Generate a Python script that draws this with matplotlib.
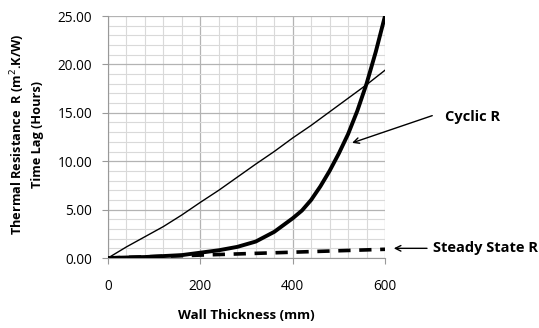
import matplotlib.pyplot as plt
from matplotlib.ticker import MultipleLocator, FormatStrFormatter

plt.rcParams['font.family'] = ['Open Sans', 'DejaVu Sans']

# wall thickness (mm)
thickness = [0, 40, 80, 120, 160, 200, 240, 280, 320, 360, 400,
             420, 440, 460, 480, 500, 520, 540, 560, 580, 600]
# time lag (hours) - thin line
time_lag = [0.0, 1.15, 2.2, 3.25, 4.45, 5.75, 7.0, 8.35, 9.7, 11.0, 12.4,
            13.05, 13.7, 14.4, 15.1, 15.8, 16.5, 17.2, 17.9, 18.65, 19.4]
# cyclic thermal resistance - thick line
cyclic_r = [0.0, 0.05, 0.1, 0.2, 0.3, 0.55, 0.8, 1.15, 1.7, 2.7, 4.1,
            4.9, 6.0, 7.4, 9.0, 10.8, 12.8, 15.2, 18.0, 21.3, 25.0]
# steady state thermal resistance - dashed
steady_r = [0.0, 0.06, 0.12, 0.18, 0.24, 0.3, 0.36, 0.42, 0.48, 0.54, 0.6,
            0.63, 0.66, 0.69, 0.72, 0.75, 0.78, 0.81, 0.84, 0.87, 0.9]

fig = plt.figure(figsize=(5.39, 3.28), dpi=100)
ax = fig.add_axes([0.2004, 0.2134, 0.5139, 0.7378])

ax.plot(thickness, time_lag, color='black', lw=1.0, zorder=3)
ax.plot(thickness, cyclic_r, color='black', lw=2.8, zorder=3)
ax.plot(thickness, steady_r, color='black', lw=2.6, ls=(0, (3.4, 2.4)), zorder=3)

ax.set_xlim(0, 600)
ax.set_ylim(0, 25)
ax.xaxis.set_major_locator(MultipleLocator(200))
ax.xaxis.set_minor_locator(MultipleLocator(40))
ax.yaxis.set_major_locator(MultipleLocator(5))
ax.yaxis.set_minor_locator(MultipleLocator(1))
ax.yaxis.set_major_formatter(FormatStrFormatter('%.2f'))
ax.grid(which='major', color='#b3b3b3', lw=0.9, zorder=0)
ax.grid(which='minor', color='#d9d9d9', lw=0.8, zorder=0)
ax.set_axisbelow(True)

for s in ['top', 'right']:
    ax.spines[s].set_visible(False)
for s in ['left', 'bottom']:
    ax.spines[s].set_color('#999999')
ax.tick_params(which='major', length=4, color='#999999', labelsize=9.8)
ax.tick_params(axis='x', pad=11)
ax.tick_params(axis='y', pad=7.5)
ax.tick_params(which='minor', length=0)

fig.text(0.457, 0.037, 'Wall Thickness (mm)', fontsize=9.6, fontweight='bold',
         ha='center', va='center')
fig.text(0.033, 0.59, 'Thermal Resistance  R (m$^2$.K/W)', rotation=90,
         fontsize=9.2, fontweight='bold', ha='center', va='center')
fig.text(0.070, 0.59, 'Time Lag (Hours)', rotation=90,
         fontsize=9.2, fontweight='bold', ha='center', va='center')

ax.annotate('', xy=(523, 11.8), xytext=(708, 14.8), xycoords='data',
            annotation_clip=False,
            arrowprops=dict(arrowstyle='->', color='black', lw=1.0))
fig.text(0.8256, 0.643, 'Cyclic R', fontsize=10.5, fontweight='bold', va='center')
ax.annotate('', xy=(613, 1.0), xytext=(697, 1.0), xycoords='data',
            annotation_clip=False,
            arrowprops=dict(arrowstyle='->', color='black', lw=1.0))
fig.text(0.803, 0.244, 'Steady State R', fontsize=10.5, fontweight='bold', va='center')

fig.savefig('out.png', dpi=100)
